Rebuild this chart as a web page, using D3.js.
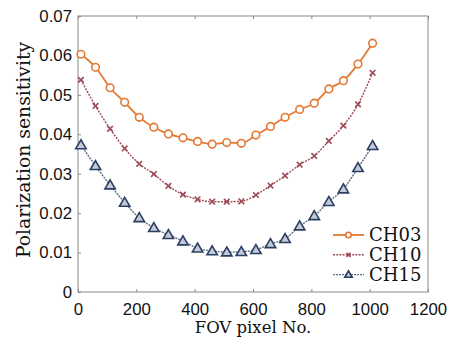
<!DOCTYPE html>
<html>
<head>
<meta charset="utf-8">
<script src="https://cdn.jsdelivr.net/npm/d3@7"></script>
<style>
  body { margin: 0; background: #fff; }
  svg { font-family: "DejaVu Serif", "Liberation Serif", serif; }
</style>
</head>
<body>
<svg id="chart" width="450" height="344"></svg>
<script>
// FOV pixel positions of the samples
const pixels = [10, 60, 110, 160, 210, 260, 310, 360, 410, 460, 510,
                560, 610, 660, 710, 760, 810, 860, 910, 960, 1010];

const ch03 = [0.0603, 0.0570, 0.0518, 0.0481, 0.0443, 0.0418, 0.0401, 0.0391, 0.0382, 0.0375, 0.0379,
              0.0377, 0.0398, 0.0420, 0.0443, 0.0463, 0.0479, 0.0515, 0.0536, 0.0578, 0.0631];
const ch10 = [0.0538, 0.0472, 0.0414, 0.0364, 0.0325, 0.0299, 0.0269, 0.0247, 0.0235, 0.0229, 0.0229,
              0.0230, 0.0246, 0.0270, 0.0295, 0.0323, 0.0345, 0.0383, 0.0422, 0.0476, 0.0556];
const ch15 = [0.0373, 0.0320, 0.0271, 0.0227, 0.0188, 0.0163, 0.0145, 0.0129, 0.0111, 0.0104, 0.0101,
              0.0102, 0.0107, 0.0122, 0.0135, 0.0167, 0.0193, 0.0229, 0.0261, 0.0315, 0.0371];

const seriesNames = ["CH03", "CH10", "CH15"];
const xTicks = [0, 200, 400, 600, 800, 1000, 1200];
const yTicks = [0, 0.01, 0.02, 0.03, 0.04, 0.05, 0.06, 0.07];

const series = [
  { name: seriesNames[0], values: ch03, color: "#e27a33", marker: "circle", dash: null, width: 1.8 },
  { name: seriesNames[1], values: ch10, color: "#9c4a56", marker: "cross", dash: "2,1.2", width: 1.4 },
  { name: seriesNames[2], values: ch15, color: "#2c3f62", marker: "triangle", dash: "2,1", width: 1.4, line: "#5d6b86" }
];

const margin = { left: 78, right: 22, top: 16, bottom: 52 };
const W = 450, H = 344;
const width = W - margin.left - margin.right;
const height = H - margin.top - margin.bottom;

const svg = d3.select("#chart");
const g = svg.append("g").attr("transform", `translate(${margin.left},${margin.top})`);

const x = d3.scaleLinear().domain([0, 1200]).range([0, width]);
const y = d3.scaleLinear().domain([0, 0.07]).range([height, 0]);

// frame
g.append("rect")
  .attr("width", width).attr("height", height)
  .attr("fill", "none").attr("stroke", "#8a8a8a").attr("stroke-width", 1);

// bottom axis
const xAxis = g.append("g").attr("transform", `translate(0,${height})`)
  .call(d3.axisBottom(x).tickValues(xTicks).tickFormat(d3.format("d")).tickSizeInner(-3).tickSizeOuter(0).tickPadding(8));
// left axis
const yAxis = g.append("g")
  .call(d3.axisLeft(y).tickValues(yTicks).tickFormat(d => d === 0 ? "0" : d3.format(".2f")(d)).tickSizeInner(-3).tickSizeOuter(0).tickPadding(6));
// top ticks
g.append("g")
  .call(d3.axisTop(x).tickValues(xTicks).tickFormat("").tickSizeInner(-3).tickSizeOuter(0));

svg.selectAll(".domain").remove();
svg.selectAll(".tick line").attr("stroke", "#8a8a8a");
svg.selectAll(".tick text").attr("fill", "#111").attr("font-size", 16.8);
xAxis.selectAll(".tick text").attr("dy", "0.9em");

// lines and markers
const line = d3.line().x((d, i) => x(pixels[i])).y(d => y(d)).curve(d3.curveMonotoneX);

function drawMarker(sel, s, cx, cy, k = 1) {
  if (s.marker === "circle") {
    sel.append("circle").attr("cx", cx).attr("cy", cy).attr("r", 3.8 * k)
      .attr("fill", "#fff").attr("stroke", s.color).attr("stroke-width", 1.6);
  } else if (s.marker === "cross") {
    const r = 2.8 * k;
    sel.append("path")
      .attr("d", `M${cx - r},${cy - r}L${cx + r},${cy + r}M${cx - r},${cy + r}L${cx + r},${cy - r}`)
      .attr("stroke", s.color).attr("stroke-width", 1.6).attr("fill", "none");
  } else {
    const r = 5.2 * k;
    sel.append("path")
      .attr("d", `M${cx},${cy - r}L${cx + r},${cy + r * 0.72}L${cx - r},${cy + r * 0.72}Z`)
      .attr("fill", "#c3cbdb").attr("stroke", s.color).attr("stroke-width", 1.6);
  }
}

series.forEach(s => {
  g.append("path").datum(s.values)
    .attr("d", line)
    .attr("fill", "none")
    .attr("stroke", s.line || s.color)
    .attr("stroke-width", s.width)
    .attr("stroke-dasharray", s.dash);
  const mg = g.append("g");
  s.values.forEach((v, i) => drawMarker(mg, s, x(pixels[i]), y(v)));
});

// legend
const legend = svg.append("g").attr("transform", "translate(333,235)");
series.forEach((s, i) => {
  const ly = i * 19.8;
  legend.append("line").attr("x1", 0).attr("x2", 31).attr("y1", ly).attr("y2", ly)
    .attr("stroke", s.line || s.color).attr("stroke-width", s.width).attr("stroke-dasharray", s.dash);
  drawMarker(legend, s, 15.5, ly, 0.72);
  legend.append("text").attr("x", 36).attr("y", ly).attr("dy", "0.36em")
    .attr("font-size", 18).attr("fill", "#111").text(s.name);
});

// axis titles
svg.append("text").attr("x", margin.left + width / 2).attr("y", 333)
  .attr("text-anchor", "middle").attr("font-size", 16.5).attr("fill", "#111").text("FOV pixel No.");
svg.append("text")
  .attr("transform", `translate(30,150) rotate(-90)`)
  .attr("text-anchor", "middle").attr("font-size", 18.8).attr("fill", "#111").text("Polarization sensitivity");
</script>
</body>
</html>
